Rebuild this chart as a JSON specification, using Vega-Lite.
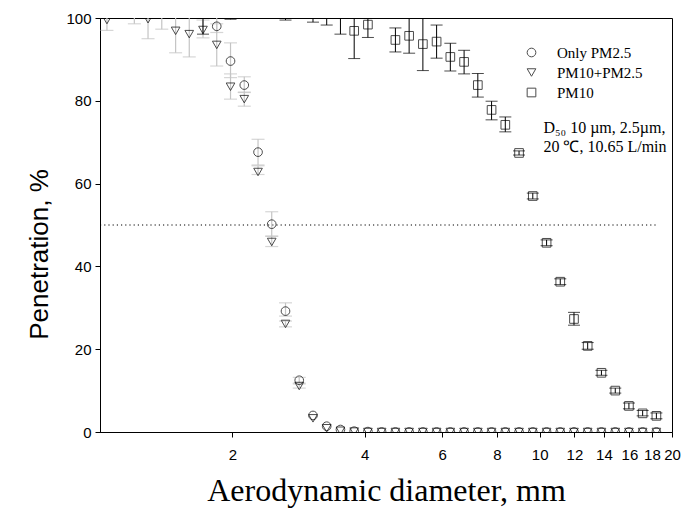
{
  "$schema": "https://vega.github.io/schema/vega-lite/v6.json",
  "width": 572,
  "height": 414,
  "autosize": {"type": "none"},
  "padding": {"left": 100, "top": 18, "right": 11, "bottom": 83},
  "background": "white",
  "config": {
    "view": {"stroke": "black", "strokeWidth": 1},
    "axis": {
      "grid": false,
      "domainColor": "black",
      "tickColor": "black",
      "labelColor": "black",
      "titleColor": "black",
      "labelFont": "Liberation Sans",
      "labelFontSize": 15,
      "tickSize": 5,
      "titleFontWeight": "normal"
    },
    "legend": {
      "orient": "none",
      "legendX": 424,
      "legendY": 27,
      "padding": 0,
      "labelFont": "Liberation Serif",
      "labelFontSize": 15,
      "labelColor": "black",
      "labelOffset": 18,
      "rowPadding": 4,
      "symbolSize": 75,
      "symbolStrokeWidth": 1,
      "symbolStrokeColor": "black",
      "symbolFillColor": "transparent"
    }
  },
  "datasets": {
    "pts": [
      {"s": "PM10+PM2.5", "d": 1.037, "p": 99.5, "lo": 97.0, "hi": 102},
      {"s": "PM10+PM2.5", "d": 1.197, "p": 102, "lo": 98.6, "hi": 104},
      {"s": "PM10+PM2.5", "d": 1.286, "p": 99.7, "lo": 95.0, "hi": 104},
      {"s": "PM10+PM2.5", "d": 1.382, "p": 102, "lo": 97.3, "hi": 105},
      {"s": "PM10+PM2.5", "d": 1.486, "p": 96.9, "lo": 91.6, "hi": 101.5},
      {"s": "PM10+PM2.5", "d": 1.596, "p": 96.1, "lo": 90.6, "hi": 101.6},
      {"s": "PM10+PM2.5", "d": 1.715, "p": 97.1, "lo": 95.2, "hi": 99.5},
      {"s": "PM10+PM2.5", "d": 1.843, "p": 93.5, "lo": 88.4, "hi": 98.6},
      {"s": "PM10+PM2.5", "d": 1.981, "p": 83.4, "lo": 80.4, "hi": 86.5},
      {"s": "PM10+PM2.5", "d": 2.129, "p": 80.4, "lo": 78.7, "hi": 82.1},
      {"s": "PM10+PM2.5", "d": 2.288, "p": 62.8, "lo": 62.2, "hi": 64.3},
      {"s": "PM10+PM2.5", "d": 2.458, "p": 45.9, "lo": 44.8, "hi": 47.3},
      {"s": "PM10+PM2.5", "d": 2.642, "p": 26.1, "lo": 25.4, "hi": 26.8},
      {"s": "PM10+PM2.5", "d": 2.839, "p": 11.1, "lo": 10.6, "hi": 11.6},
      {"s": "PM10+PM2.5", "d": 3.051, "p": 3.3, "lo": null, "hi": null},
      {"s": "PM10+PM2.5", "d": 3.278, "p": 0.9, "lo": null, "hi": null},
      {"s": "PM10+PM2.5", "d": 3.523, "p": 0.3, "lo": null, "hi": null},
      {"s": "PM10+PM2.5", "d": 3.786, "p": 0.1, "lo": null, "hi": null},
      {"s": "PM10+PM2.5", "d": 4.068, "p": 0, "lo": null, "hi": null},
      {"s": "PM10+PM2.5", "d": 4.371, "p": 0, "lo": null, "hi": null},
      {"s": "PM10+PM2.5", "d": 4.698, "p": 0, "lo": null, "hi": null},
      {"s": "PM10+PM2.5", "d": 5.048, "p": 0, "lo": null, "hi": null},
      {"s": "PM10+PM2.5", "d": 5.425, "p": 0, "lo": null, "hi": null},
      {"s": "PM10+PM2.5", "d": 5.829, "p": 0, "lo": null, "hi": null},
      {"s": "PM10+PM2.5", "d": 6.264, "p": 0, "lo": null, "hi": null},
      {"s": "PM10+PM2.5", "d": 6.732, "p": 0, "lo": null, "hi": null},
      {"s": "PM10+PM2.5", "d": 7.234, "p": 0, "lo": null, "hi": null},
      {"s": "PM10+PM2.5", "d": 7.774, "p": 0, "lo": null, "hi": null},
      {"s": "PM10+PM2.5", "d": 8.354, "p": 0, "lo": null, "hi": null},
      {"s": "PM10+PM2.5", "d": 8.977, "p": 0, "lo": null, "hi": null},
      {"s": "PM10+PM2.5", "d": 9.647, "p": 0, "lo": null, "hi": null},
      {"s": "PM10+PM2.5", "d": 10.37, "p": 0, "lo": null, "hi": null},
      {"s": "PM10+PM2.5", "d": 11.14, "p": 0, "lo": null, "hi": null},
      {"s": "PM10+PM2.5", "d": 11.97, "p": 0, "lo": null, "hi": null},
      {"s": "PM10+PM2.5", "d": 12.86, "p": 0, "lo": null, "hi": null},
      {"s": "PM10+PM2.5", "d": 13.82, "p": 0, "lo": null, "hi": null},
      {"s": "PM10+PM2.5", "d": 14.86, "p": 0, "lo": null, "hi": null},
      {"s": "PM10+PM2.5", "d": 15.96, "p": 0, "lo": null, "hi": null},
      {"s": "PM10+PM2.5", "d": 17.15, "p": 0, "lo": null, "hi": null},
      {"s": "PM10+PM2.5", "d": 18.43, "p": 0, "lo": null, "hi": null},
      {"s": "Only PM2.5", "d": 1.843, "p": 98.0, "lo": 96.5, "hi": 101},
      {"s": "Only PM2.5", "d": 1.981, "p": 89.6, "lo": 85.6, "hi": 94.0},
      {"s": "Only PM2.5", "d": 2.129, "p": 83.8, "lo": 82.0, "hi": 85.8},
      {"s": "Only PM2.5", "d": 2.288, "p": 67.6, "lo": 64.5, "hi": 70.7},
      {"s": "Only PM2.5", "d": 2.458, "p": 50.2, "lo": 47.3, "hi": 53.2},
      {"s": "Only PM2.5", "d": 2.642, "p": 29.2, "lo": 28.0, "hi": 31.2},
      {"s": "Only PM2.5", "d": 2.839, "p": 12.5, "lo": 11.8, "hi": 13.2},
      {"s": "Only PM2.5", "d": 3.051, "p": 4.0, "lo": null, "hi": null},
      {"s": "Only PM2.5", "d": 3.278, "p": 1.4, "lo": null, "hi": null},
      {"s": "Only PM2.5", "d": 3.523, "p": 0.6, "lo": null, "hi": null},
      {"s": "Only PM2.5", "d": 3.786, "p": 0.2, "lo": null, "hi": null},
      {"s": "Only PM2.5", "d": 4.068, "p": 0.1, "lo": null, "hi": null},
      {"s": "Only PM2.5", "d": 4.371, "p": 0, "lo": null, "hi": null},
      {"s": "Only PM2.5", "d": 4.698, "p": 0, "lo": null, "hi": null},
      {"s": "Only PM2.5", "d": 5.048, "p": 0, "lo": null, "hi": null},
      {"s": "Only PM2.5", "d": 5.425, "p": 0, "lo": null, "hi": null},
      {"s": "Only PM2.5", "d": 5.829, "p": 0, "lo": null, "hi": null},
      {"s": "Only PM2.5", "d": 6.264, "p": 0, "lo": null, "hi": null},
      {"s": "Only PM2.5", "d": 6.732, "p": 0, "lo": null, "hi": null},
      {"s": "Only PM2.5", "d": 7.234, "p": 0, "lo": null, "hi": null},
      {"s": "Only PM2.5", "d": 7.774, "p": 0, "lo": null, "hi": null},
      {"s": "Only PM2.5", "d": 8.354, "p": 0, "lo": null, "hi": null},
      {"s": "Only PM2.5", "d": 8.977, "p": 0, "lo": null, "hi": null},
      {"s": "Only PM2.5", "d": 9.647, "p": 0, "lo": null, "hi": null},
      {"s": "Only PM2.5", "d": 10.37, "p": 0, "lo": null, "hi": null},
      {"s": "Only PM2.5", "d": 11.14, "p": 0, "lo": null, "hi": null},
      {"s": "Only PM2.5", "d": 11.97, "p": 0, "lo": null, "hi": null},
      {"s": "Only PM2.5", "d": 12.86, "p": 0, "lo": null, "hi": null},
      {"s": "Only PM2.5", "d": 13.82, "p": 0, "lo": null, "hi": null},
      {"s": "Only PM2.5", "d": 14.86, "p": 0, "lo": null, "hi": null},
      {"s": "Only PM2.5", "d": 15.96, "p": 0, "lo": null, "hi": null},
      {"s": "Only PM2.5", "d": 17.15, "p": 0, "lo": null, "hi": null},
      {"s": "Only PM2.5", "d": 18.43, "p": 0, "lo": null, "hi": null},
      {"s": "PM10", "d": 1.715, "p": 102, "lo": 96.1, "hi": 108},
      {"s": "PM10", "d": 1.981, "p": 102, "lo": 99.7, "hi": 104},
      {"s": "PM10", "d": 2.642, "p": 102, "lo": 99.5, "hi": 104.5},
      {"s": "PM10", "d": 3.051, "p": 102, "lo": 99.0, "hi": 105},
      {"s": "PM10", "d": 3.278, "p": 102, "lo": 98.3, "hi": 105.7},
      {"s": "PM10", "d": 3.523, "p": 102, "lo": 96.1, "hi": 107.9},
      {"s": "PM10", "d": 3.786, "p": 96.9, "lo": 90.2, "hi": 103.6},
      {"s": "PM10", "d": 4.068, "p": 98.4, "lo": 95.3, "hi": 101.5},
      {"s": "PM10", "d": 4.698, "p": 94.7, "lo": 91.8, "hi": 97.6},
      {"s": "PM10", "d": 5.048, "p": 95.7, "lo": 91.5, "hi": 99.9},
      {"s": "PM10", "d": 5.425, "p": 93.7, "lo": 87.3, "hi": 100.5},
      {"s": "PM10", "d": 5.829, "p": 94.3, "lo": 90.3, "hi": 98.3},
      {"s": "PM10", "d": 6.264, "p": 90.6, "lo": 87.2, "hi": 93.9},
      {"s": "PM10", "d": 6.732, "p": 89.4, "lo": 86.5, "hi": 92.2},
      {"s": "PM10", "d": 7.234, "p": 83.8, "lo": 80.9, "hi": 86.6},
      {"s": "PM10", "d": 7.774, "p": 77.8, "lo": 75.4, "hi": 79.9},
      {"s": "PM10", "d": 8.354, "p": 74.2, "lo": 72.5, "hi": 76.1},
      {"s": "PM10", "d": 8.977, "p": 67.4, "lo": 66.9, "hi": 67.9},
      {"s": "PM10", "d": 9.647, "p": 57.0, "lo": 56.3, "hi": 57.7},
      {"s": "PM10", "d": 10.37, "p": 45.7, "lo": 45.0, "hi": 46.4},
      {"s": "PM10", "d": 11.14, "p": 36.3, "lo": 35.6, "hi": 37.0},
      {"s": "PM10", "d": 11.97, "p": 27.3, "lo": 25.8, "hi": 28.9},
      {"s": "PM10", "d": 12.86, "p": 20.8, "lo": 20.0, "hi": 21.6},
      {"s": "PM10", "d": 13.82, "p": 14.3, "lo": 13.7, "hi": 14.9},
      {"s": "PM10", "d": 14.86, "p": 10.0, "lo": 9.4, "hi": 10.6},
      {"s": "PM10", "d": 15.96, "p": 6.3, "lo": 5.6, "hi": 7.0},
      {"s": "PM10", "d": 17.15, "p": 4.5, "lo": 3.9, "hi": 5.2},
      {"s": "PM10", "d": 18.43, "p": 3.9, "lo": 3.2, "hi": 4.6}
    ],
    "ref": [{"d": 1, "d2": 18.4, "p": 50}],
    "notes": [
      {"d": 10.2, "p": 73.4, "t": "D₅₀ 10 µm, 2.5µm,"},
      {"d": 10.2, "p": 68.8, "t": "20 ℃, 10.65 L/min"}
    ]
  },
  "encoding": {
    "x": {
      "field": "d",
      "type": "quantitative",
      "scale": {"type": "log", "domain": [1, 20], "nice": false},
      "title": "Aerodynamic diameter, mm",
      "axis": {
        "values": [2, 4, 6, 8, 10, 12, 14, 16, 18, 20],
        "format": "d",
        "labelPadding": 10,
        "labelFlush": false,
        "labelOverlap": false,
        "titleFont": "Liberation Serif",
        "titleFontSize": 32,
        "titlePadding": 13
      }
    },
    "y": {
      "field": "p",
      "type": "quantitative",
      "scale": {"domain": [0, 100], "nice": false, "zero": false},
      "title": "Penetration, %",
      "axis": {
        "values": [0, 20, 40, 60, 80, 100],
        "labelPadding": 4,
        "titleFont": "Liberation Sans",
        "titleFontSize": 26,
        "titlePadding": 13,
        "titleY": 236
      }
    }
  },
  "layer": [
    {
      "data": {"name": "ref"},
      "mark": {"type": "rule", "color": "black", "strokeWidth": 1, "strokeDash": [1.2, 3]},
      "encoding": {"x2": {"field": "d2"}}
    },
    {
      "data": {"name": "pts"},
      "transform": [{"filter": "datum.s !== 'PM10' && isValid(datum.lo)"}],
      "mark": {"type": "rule", "color": "#c4c4c4", "strokeWidth": 1.2, "clip": true},
      "encoding": {
        "y": {"field": "lo", "type": "quantitative", "title": "Penetration, %"},
        "y2": {"field": "hi"}
      }
    },
    {
      "data": {"name": "pts"},
      "transform": [{"filter": "datum.s !== 'PM10' && isValid(datum.lo)"}],
      "mark": {"type": "tick", "orient": "horizontal", "color": "#c4c4c4", "size": 13, "thickness": 1.2, "clip": true},
      "encoding": {"y": {"field": "lo", "type": "quantitative", "title": "Penetration, %"}}
    },
    {
      "data": {"name": "pts"},
      "transform": [{"filter": "datum.s !== 'PM10' && isValid(datum.hi)"}],
      "mark": {"type": "tick", "orient": "horizontal", "color": "#c4c4c4", "size": 13, "thickness": 1.2, "clip": true},
      "encoding": {"y": {"field": "hi", "type": "quantitative", "title": "Penetration, %"}}
    },
    {
      "data": {"name": "pts"},
      "transform": [{"filter": "datum.s === 'PM10'"}],
      "mark": {"type": "rule", "color": "black", "strokeWidth": 1, "clip": true},
      "encoding": {
        "y": {"field": "lo", "type": "quantitative", "title": "Penetration, %"},
        "y2": {"field": "hi"}
      }
    },
    {
      "data": {"name": "pts"},
      "transform": [{"filter": "datum.s === 'PM10'"}],
      "mark": {"type": "tick", "orient": "horizontal", "color": "black", "size": 12, "thickness": 1, "clip": true},
      "encoding": {"y": {"field": "lo", "type": "quantitative", "title": "Penetration, %"}}
    },
    {
      "data": {"name": "pts"},
      "transform": [{"filter": "datum.s === 'PM10'"}],
      "mark": {"type": "tick", "orient": "horizontal", "color": "black", "size": 12, "thickness": 1, "clip": true},
      "encoding": {"y": {"field": "hi", "type": "quantitative", "title": "Penetration, %"}}
    },
    {
      "data": {"name": "pts"},
      "mark": {"type": "point", "filled": false, "color": "black", "size": 75, "strokeWidth": 1, "clip": true},
      "encoding": {
        "shape": {
          "field": "s",
          "type": "nominal",
          "scale": {"domain": ["Only PM2.5", "PM10+PM2.5", "PM10"], "range": ["circle", "triangle-down", "square"]},
          "legend": {"title": null}
        }
      }
    },
    {
      "data": {"name": "notes"},
      "mark": {"type": "text", "align": "left", "baseline": "middle", "font": "Liberation Serif", "fontSize": 16, "color": "black"},
      "encoding": {"text": {"field": "t"}}
    }
  ]
}
